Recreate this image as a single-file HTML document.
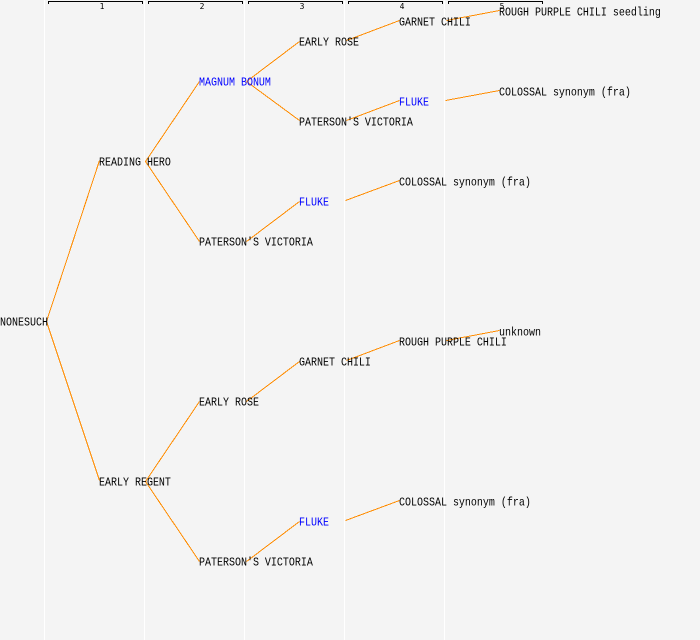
<!DOCTYPE html>
<html>
<head>
<meta charset="utf-8">
<style>
html,body{margin:0;padding:0;background:#f4f4f4;width:700px;height:640px;overflow:hidden}
svg{display:block}
text{font-family:"Liberation Mono","DejaVu Sans Mono",monospace;font-size:10px;fill:#000}
.b{fill:#0000ff}
.n{font-family:"DejaVu Sans Mono",monospace;font-size:8px;text-anchor:middle}
</style>
</head>
<body>
<svg width="700" height="640" viewBox="0 0 700 640" xmlns="http://www.w3.org/2000/svg">
<rect width="700" height="640" fill="#f4f4f4"/>
<g stroke="#ffffff" stroke-width="1" shape-rendering="crispEdges">
<line x1="44.5" y1="0" x2="44.5" y2="640"/>
<line x1="144.5" y1="0" x2="144.5" y2="640"/>
<line x1="244.5" y1="0" x2="244.5" y2="640"/>
<line x1="344.5" y1="0" x2="344.5" y2="640"/>
<line x1="444.5" y1="0" x2="444.5" y2="640"/>
</g>
<g fill="none" stroke="#000" stroke-width="1" shape-rendering="crispEdges">
<path d="M48.5 4V1.5H142.5V4"/>
<path d="M148.5 4V1.5H242.5V4"/>
<path d="M248.5 4V1.5H342.5V4"/>
<path d="M348.5 4V1.5H442.5V4"/>
<path d="M448.5 4V1.5H542.5V4"/>
</g>
<g>
<text class="n" x="102" y="9">1</text>
<text class="n" x="202" y="9">2</text>
<text class="n" x="302" y="9">3</text>
<text class="n" x="402" y="9">4</text>
<text class="n" x="502" y="9">5</text>
</g>
<g stroke="#ff8c00" stroke-width="1" fill="none" shape-rendering="crispEdges">
<line x1="46.5" y1="321.5" x2="99.5" y2="160.5"/>
<line x1="46.5" y1="321.5" x2="99.5" y2="480.5"/>
<line x1="145.5" y1="161.5" x2="199.5" y2="81.5"/>
<line x1="145.5" y1="161.5" x2="199.5" y2="241.5"/>
<line x1="145.5" y1="481.5" x2="199.5" y2="401.5"/>
<line x1="145.5" y1="481.5" x2="199.5" y2="561.5"/>
<line x1="246.5" y1="81.5" x2="299.5" y2="41.5"/>
<line x1="246.5" y1="81.5" x2="299.5" y2="120.5"/>
<line x1="346.5" y1="40.5" x2="399.5" y2="20.5"/>
<line x1="446.5" y1="20.5" x2="499.5" y2="10.5"/>
<line x1="346.5" y1="120.5" x2="399.5" y2="100.5"/>
<line x1="445.5" y1="100.5" x2="499.5" y2="90.5"/>
<line x1="246.5" y1="241.5" x2="299.5" y2="201.5"/>
<line x1="345.5" y1="200.5" x2="399.5" y2="180.5"/>
<line x1="246.5" y1="401.5" x2="299.5" y2="361.5"/>
<line x1="346.5" y1="360.5" x2="399.5" y2="340.5"/>
<line x1="446.5" y1="340.5" x2="499.5" y2="330.5"/>
<line x1="246.5" y1="561.5" x2="299.5" y2="521.5"/>
<line x1="345.5" y1="520.5" x2="399.5" y2="500.5"/>
</g>
<g>
<text transform="translate(0 325.5) scale(1 1.2)">NONESUCH</text>
<text transform="translate(99 165.5) scale(1 1.2)">READING HERO</text>
<text transform="translate(99 485.5) scale(1 1.2)">EARLY REGENT</text>
<text class="b" transform="translate(199 85.5) scale(1 1.2)">MAGNUM BONUM</text>
<text transform="translate(199 245.5) scale(1 1.2)">PATERSON'S VICTORIA</text>
<text transform="translate(199 405.5) scale(1 1.2)">EARLY ROSE</text>
<text transform="translate(199 565.5) scale(1 1.2)">PATERSON'S VICTORIA</text>
<text transform="translate(299 45.5) scale(1 1.2)">EARLY ROSE</text>
<text transform="translate(299 125.5) scale(1 1.2)">PATERSON'S VICTORIA</text>
<text class="b" transform="translate(299 205.5) scale(1 1.2)">FLUKE</text>
<text transform="translate(299 365.5) scale(1 1.2)">GARNET CHILI</text>
<text class="b" transform="translate(299 525.5) scale(1 1.2)">FLUKE</text>
<text transform="translate(399 25.5) scale(1 1.2)">GARNET CHILI</text>
<text class="b" transform="translate(399 105.5) scale(1 1.2)">FLUKE</text>
<text transform="translate(399 185.5) scale(1 1.2)">COLOSSAL synonym (fra)</text>
<text transform="translate(399 345.5) scale(1 1.2)">ROUGH PURPLE CHILI</text>
<text transform="translate(399 505.5) scale(1 1.2)">COLOSSAL synonym (fra)</text>
<text transform="translate(499 15.5) scale(1 1.2)">ROUGH PURPLE CHILI seedling</text>
<text transform="translate(499 95.5) scale(1 1.2)">COLOSSAL synonym (fra)</text>
<text transform="translate(499 335.5) scale(1 1.2)">unknown</text>
</g>
</svg>
</body>
</html>
